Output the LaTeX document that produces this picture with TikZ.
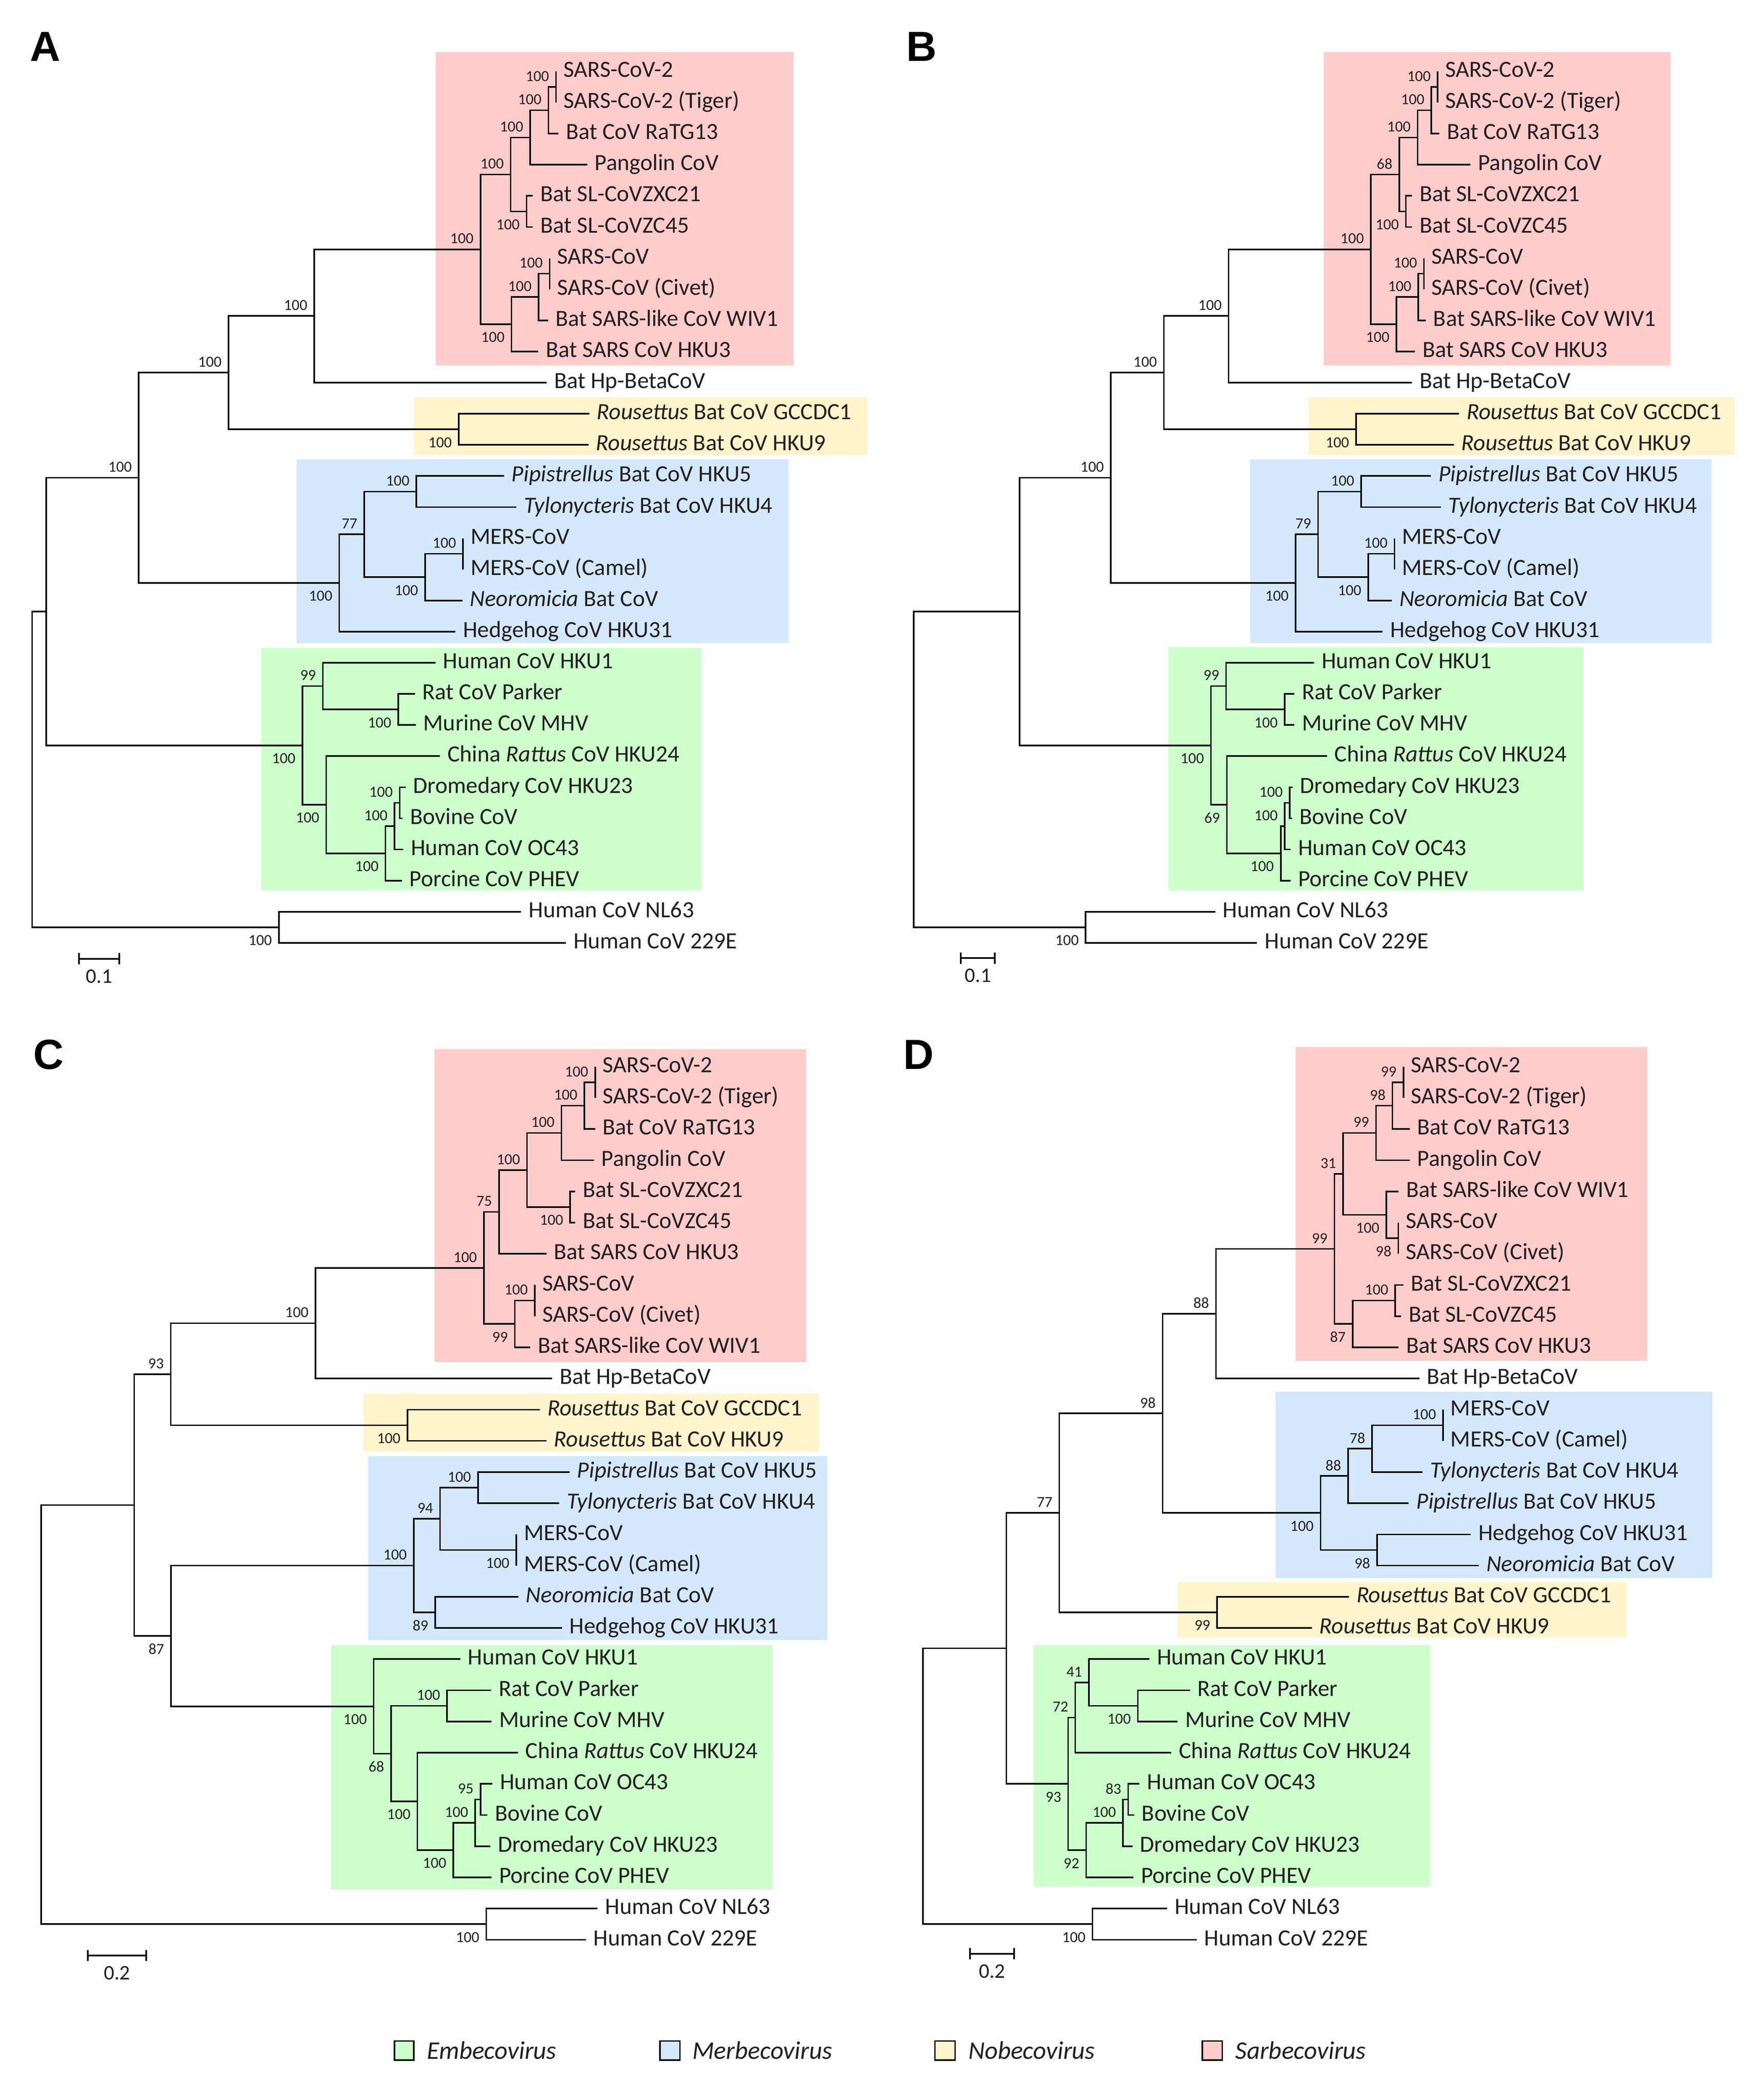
\documentclass[tikz,border=0pt]{standalone}
\usepackage{fontspec}
\setmainfont{Carlito}
\newfontfamily\panelfont{Liberation Sans}
\usetikzlibrary{calc}
\definecolor{txt}{HTML}{231F20}
\definecolor{pinkc}{HTML}{FFCCCC}
\definecolor{yelc}{HTML}{FFF4CC}
\definecolor{bluec}{HTML}{D4E8FB}
\definecolor{greenc}{HTML}{CCFFCC}
\tikzset{
  br/.style={line width=1.15pt, black},
  tiplab/.style={anchor=base west, inner sep=0pt, xshift=5.5pt, yshift=-4.3pt, text=txt, font=\fontsize{17.4}{20}\selectfont},
  bs/.style={inner sep=0pt, text=txt, font=\fontsize{11.5}{13}\selectfont},
  bsab/.style={anchor=east, xshift=-5pt, yshift=8pt},
  bsbe/.style={anchor=east, xshift=-5pt, yshift=-9.8pt},
  sbar/.style={line width=1.3pt, black},
  sblab/.style={inner sep=0pt, text=txt, font=\fontsize{15.5}{18}\selectfont},
  plab/.style={anchor=base west, inner sep=0pt, text=black, font=\panelfont\bfseries\fontsize{31.5}{36}\selectfont},
  leg/.style={anchor=base west, inner sep=0pt, text=txt, font=\itshape\fontsize{19}{22}\selectfont},
  legbox/.style={draw=black, line width=1pt}
}
\def\ybase{53.4}
\def\yspc{23.3}
\newcommand\tipnode[4]{%
  \coordinate (#1) at (#3,{\ybase+\yspc*(#2)});
  \node[tiplab] (#1t) at (#1) {#4};}
\newcommand\innode[5]{%
  \coordinate (#1) at (#3,{\ybase+\yspc*(#2)});
  \node[bs,#5] (#1b) at (#1) {#4};}
\newcommand\jnnode[3]{\coordinate (#1) at (#3,{\ybase+\yspc*(#2)});}
\newcommand\cladeEdges[3]{\draw[br] (#1) |- (#2) (#1) |- (#3);}
\newcommand\scalebar[6]{% name, x1, x2, y, label, labely
  \coordinate (#1l) at (#2,#4);
  \coordinate (#1r) at (#3,#4);
  \draw[sbar] (#1l) -- (#1r);
  \draw[sbar] ([yshift=4.2pt]#1l) -- ([yshift=-4.2pt]#1l);
  \draw[sbar] ([yshift=4.2pt]#1r) -- ([yshift=-4.2pt]#1r);
  \node[sblab] (#1t) at ($(#1l)!0.5!(#1r)+(0,#6-#4)$) {#5};}
\begin{document}
\begin{tikzpicture}[x=1pt,y=-1pt]
\useasboundingbox (0,0) rectangle (1320,1572);
\fill[white] (0,0) rectangle (1320,1572);
% ---------------- background boxes ----------------
% A
\fill[pinkc] (326.1,38.9) rectangle (594,273.4);
\fill[yelc] (309.7,297.4) rectangle (649,340.5);
\fill[bluec] (222.1,343.9) rectangle (590,481.4);
\fill[greenc] (195.6,485.2) rectangle (525,666.4);
% B
\fill[pinkc] (990.6,38.9) rectangle (1250,273.4);
\fill[yelc] (979.2,297.4) rectangle (1298,340.5);
\fill[bluec] (935.5,343.9) rectangle (1281,481.4);
\fill[greenc] (874.2,484.6) rectangle (1185,666.4);
% C
\fill[pinkc] (325.2,785.3) rectangle (603.4,1019.5);
\fill[yelc] (272.1,1043.3) rectangle (613,1086.6);
\fill[bluec] (275.4,1090.0) rectangle (619,1227.7);
\fill[greenc] (247.9,1231.4) rectangle (578,1414.3);
% D
\fill[pinkc] (969.6,783.9) rectangle (1232.8,1018.5);
\fill[bluec] (954.4,1041.8) rectangle (1281.5,1181.2);
\fill[yelc] (881.3,1184.4) rectangle (1217.4,1225.9);
\fill[greenc] (773.7,1231.5) rectangle (1070.3,1412.3);
% ---------------- panel labels ----------------
\node[plab] (pA) at (22.3,45.8) {A};
\node[plab] (pB) at (678.2,45.8) {B};
\node[plab] (pC) at (24.9,800.2) {C};
\node[plab] (pD) at (676.0,800.2) {D};
% ================= PANEL A =================
\tipnode{a0}{0}{416.1}{SARS-CoV-2}
\tipnode{a1}{1}{416.1}{SARS-CoV-2 (Tiger)}
\tipnode{a2}{2}{417.8}{Bat CoV RaTG13}
\tipnode{a3}{3}{439.4}{Pangolin CoV}
\tipnode{a4}{4}{398.8}{Bat SL-CoVZXC21}
\tipnode{a5}{5}{398.8}{Bat SL-CoVZC45}
\tipnode{a6}{6}{411.4}{SARS-CoV}
\tipnode{a7}{7}{411.4}{SARS-CoV (Civet)}
\tipnode{a8}{8}{410.2}{Bat SARS-like CoV WIV1}
\tipnode{a9}{9}{402.8}{Bat SARS CoV HKU3}
\tipnode{a10}{10}{409.1}{Bat Hp-BetaCoV}
\tipnode{a11}{11}{441.0}{\textit{Rousettus} Bat CoV GCCDC1}
\tipnode{a12}{12}{440.4}{\textit{Rousettus} Bat CoV HKU9}
\tipnode{a13}{13}{377.2}{\textit{Pipistrellus} Bat CoV HKU5}
\tipnode{a14}{14}{386.4}{\textit{Tylonycteris} Bat CoV HKU4}
\tipnode{a15}{15}{346.5}{MERS-CoV}
\tipnode{a16}{16}{346.5}{MERS-CoV (Camel)}
\tipnode{a17}{17}{346.0}{\textit{Neoromicia} Bat CoV}
\tipnode{a18}{18}{340.9}{Hedgehog CoV HKU31}
\tipnode{a19}{19}{325.9}{Human CoV HKU1}
\tipnode{a20}{20}{310.5}{Rat CoV Parker}
\tipnode{a21}{21}{311.1}{Murine CoV MHV}
\tipnode{a22}{22}{329.2}{China \textit{Rattus} CoV HKU24}
\tipnode{a23}{23}{303.6}{Dromedary CoV HKU23}
\tipnode{a24}{24}{301.3}{Bovine CoV}
\tipnode{a25}{25}{301.9}{Human CoV OC43}
\tipnode{a26}{26}{300.8}{Porcine CoV PHEV}
\tipnode{a27}{27}{390.0}{Human CoV NL63}
\tipnode{a28}{28}{423.5}{Human CoV 229E}
\innode{an1}{0.5}{416.1}{100}{bsab}
\innode{an2}{1.25}{410.4}{100}{bsab}
\innode{an3}{2.125}{396.8}{100}{bsab}
\innode{an4}{4.5}{394.1}{100}{bsbe}
\innode{an5}{3.3125}{382.2}{100}{bsab}
\innode{an6}{6.5}{411.4}{100}{bsab}
\innode{an7}{7.25}{403.0}{100}{bsab}
\innode{an8}{8.125}{382.8}{100}{bsbe}
\innode{an9}{5.71875}{359.6}{100}{bsab}
\innode{an10}{7.859375}{235.2}{100}{bsab}
\innode{an11}{11.5}{343.3}{100}{bsbe}
\innode{an12}{9.6796875}{171.0}{100}{bsab}
\innode{am1}{13.5}{311.6}{100}{bsab}
\innode{am2}{15.5}{346.5}{100}{bsab}
\innode{am3}{16.25}{318.1}{100}{bsbe}
\innode{am4}{14.875}{272.6}{77}{bsab}
\innode{am5}{16.4375}{253.9}{100}{bsbe}
\innode{an13}{13.05859}{103.8}{100}{bsab}
\innode{ae1}{20.5}{298.0}{100}{bsbe}
\innode{ae2}{19.75}{241.6}{99}{bsab}
\innode{ae3}{23.5}{299.1}{100}{bsab}
\innode{ae4}{24.25}{295.2}{100}{bsab}
\innode{ae5}{25.125}{288.5}{100}{bsbe}
\innode{ae6}{23.5625}{244.1}{100}{bsbe}
\innode{ae7}{21.65625}{226.3}{100}{bsbe}
\jnnode{an14}{17.3574}{34.6}
\innode{ao1}{27.5}{208.7}{100}{bsbe}
\jnnode{aroot}{22.4287}{24.0}
\cladeEdges{an1}{a0}{a1}
\cladeEdges{an2}{an1}{a2}
\cladeEdges{an3}{an2}{a3}
\cladeEdges{an4}{a4}{a5}
\cladeEdges{an5}{an3}{an4}
\cladeEdges{an6}{a6}{a7}
\cladeEdges{an7}{an6}{a8}
\cladeEdges{an8}{an7}{a9}
\cladeEdges{an9}{an5}{an8}
\cladeEdges{an10}{an9}{a10}
\cladeEdges{an11}{a11}{a12}
\cladeEdges{an12}{an10}{an11}
\cladeEdges{am1}{a13}{a14}
\cladeEdges{am2}{a15}{a16}
\cladeEdges{am3}{am2}{a17}
\cladeEdges{am4}{am1}{am3}
\cladeEdges{am5}{am4}{a18}
\cladeEdges{an13}{an12}{am5}
\cladeEdges{ae1}{a20}{a21}
\cladeEdges{ae2}{a19}{ae1}
\cladeEdges{ae3}{a23}{a24}
\cladeEdges{ae4}{ae3}{a25}
\cladeEdges{ae5}{ae4}{a26}
\cladeEdges{ae6}{a22}{ae5}
\cladeEdges{ae7}{ae2}{ae6}
\cladeEdges{an14}{an13}{ae7}
\cladeEdges{ao1}{a27}{a28}
\cladeEdges{aroot}{an14}{ao1}
\scalebar{sA}{59.1}{89.3}{717.7}{0.1}{730.9}
% ================= PANEL B =================
\tipnode{b0}{0}{1075.9}{SARS-CoV-2}
\tipnode{b1}{1}{1075.9}{SARS-CoV-2 (Tiger)}
\tipnode{b2}{2}{1077.2}{Bat CoV RaTG13}
\tipnode{b3}{3}{1100.5}{Pangolin CoV}
\tipnode{b4}{4}{1056.7}{Bat SL-CoVZXC21}
\tipnode{b5}{5}{1056.7}{Bat SL-CoVZC45}
\tipnode{b6}{6}{1065.7}{SARS-CoV}
\tipnode{b7}{7}{1065.7}{SARS-CoV (Civet)}
\tipnode{b8}{8}{1067.0}{Bat SARS-like CoV WIV1}
\tipnode{b9}{9}{1058.9}{Bat SARS CoV HKU3}
\tipnode{b10}{10}{1056.7}{Bat Hp-BetaCoV}
\tipnode{b11}{11}{1091.9}{\textit{Rousettus} Bat CoV GCCDC1}
\tipnode{b12}{12}{1088.0}{\textit{Rousettus} Bat CoV HKU9}
\tipnode{b13}{13}{1070.9}{\textit{Pipistrellus} Bat CoV HKU5}
\tipnode{b14}{14}{1078.3}{\textit{Tylonycteris} Bat CoV HKU4}
\tipnode{b15}{15}{1043.6}{MERS-CoV}
\tipnode{b16}{16}{1043.6}{MERS-CoV (Camel)}
\tipnode{b17}{17}{1041.6}{\textit{Neoromicia} Bat CoV}
\tipnode{b18}{18}{1034.8}{Hedgehog CoV HKU31}
\tipnode{b19}{19}{983.4}{Human CoV HKU1}
\tipnode{b20}{20}{968.7}{Rat CoV Parker}
\tipnode{b21}{21}{968.7}{Murine CoV MHV}
\tipnode{b22}{22}{993.1}{China \textit{Rattus} CoV HKU24}
\tipnode{b23}{23}{967.3}{Dromedary CoV HKU23}
\tipnode{b24}{24}{967.0}{Bovine CoV}
\tipnode{b25}{25}{965.8}{Human CoV OC43}
\tipnode{b26}{26}{965.8}{Porcine CoV PHEV}
\tipnode{b27}{27}{909.4}{Human CoV NL63}
\tipnode{b28}{28}{940.8}{Human CoV 229E}
\innode{bn1}{0.5}{1075.9}{100}{bsab}
\innode{bn2}{1.25}{1071.2}{100}{bsab}
\innode{bn3}{2.125}{1060.9}{100}{bsab}
\innode{bn4}{4.5}{1052.1}{100}{bsbe}
\innode{bn5}{3.3125}{1047.2}{68}{bsab}
\innode{bn6}{6.5}{1065.7}{100}{bsab}
\innode{bn7}{7.25}{1061.5}{100}{bsab}
\innode{bn8}{8.125}{1045.0}{100}{bsbe}
\innode{bn9}{5.71875}{1025.9}{100}{bsab}
\innode{bn10}{7.859375}{919.5}{100}{bsab}
\innode{bn11}{11.5}{1014.8}{100}{bsbe}
\innode{bn12}{9.6796875}{871.0}{100}{bsab}
\innode{bm1}{13.5}{1018.7}{100}{bsab}
\innode{bm2}{15.5}{1043.6}{100}{bsab}
\innode{bm3}{16.25}{1024.0}{100}{bsbe}
\innode{bm4}{14.875}{986.4}{79}{bsab}
\innode{bm5}{16.4375}{969.6}{100}{bsbe}
\innode{bn13}{13.05859}{831.3}{100}{bsab}
\innode{be1}{20.5}{961.4}{100}{bsbe}
\innode{be2}{19.75}{917.6}{99}{bsab}
\innode{be3}{23.5}{965.2}{100}{bsab}
\innode{be4}{24.25}{961.4}{100}{bsab}
\innode{be5}{25.125}{958.5}{100}{bsbe}
\innode{be6}{23.5625}{918.2}{69}{bsbe}
\innode{be7}{21.65625}{906.2}{100}{bsbe}
\jnnode{bn14}{17.3574}{763.1}
\innode{bo1}{27.5}{812.5}{100}{bsbe}
\jnnode{broot}{22.4287}{683.9}
\cladeEdges{bn1}{b0}{b1}
\cladeEdges{bn2}{bn1}{b2}
\cladeEdges{bn3}{bn2}{b3}
\cladeEdges{bn4}{b4}{b5}
\cladeEdges{bn5}{bn3}{bn4}
\cladeEdges{bn6}{b6}{b7}
\cladeEdges{bn7}{bn6}{b8}
\cladeEdges{bn8}{bn7}{b9}
\cladeEdges{bn9}{bn5}{bn8}
\cladeEdges{bn10}{bn9}{b10}
\cladeEdges{bn11}{b11}{b12}
\cladeEdges{bn12}{bn10}{bn11}
\cladeEdges{bm1}{b13}{b14}
\cladeEdges{bm2}{b15}{b16}
\cladeEdges{bm3}{bm2}{b17}
\cladeEdges{bm4}{bm1}{bm3}
\cladeEdges{bm5}{bm4}{b18}
\cladeEdges{bn13}{bn12}{bm5}
\cladeEdges{be1}{b20}{b21}
\cladeEdges{be2}{b19}{be1}
\cladeEdges{be3}{b23}{b24}
\cladeEdges{be4}{be3}{b25}
\cladeEdges{be5}{be4}{b26}
\cladeEdges{be6}{b22}{be5}
\cladeEdges{be7}{be2}{be6}
\cladeEdges{bn14}{bn13}{be7}
\cladeEdges{bo1}{b27}{b28}
\cladeEdges{broot}{bn14}{bo1}
\scalebar{sB}{719.1}{744.6}{717.2}{0.1}{730.4}
% ================= PANEL C =================
\def\ybase{798.5}
\def\yspc{23.34}
\tipnode{c0}{0}{445.4}{SARS-CoV-2}
\tipnode{c1}{1}{445.4}{SARS-CoV-2 (Tiger)}
\tipnode{c2}{2}{445.4}{Bat CoV RaTG13}
\tipnode{c3}{3}{444.4}{Pangolin CoV}
\tipnode{c4}{4}{430.5}{Bat SL-CoVZXC21}
\tipnode{c5}{5}{430.5}{Bat SL-CoVZC45}
\tipnode{c6}{6}{408.9}{Bat SARS CoV HKU3}
\tipnode{c7}{7}{400.2}{SARS-CoV}
\tipnode{c8}{8}{400.2}{SARS-CoV (Civet)}
\tipnode{c9}{9}{396.9}{Bat SARS-like CoV WIV1}
\tipnode{c10}{10}{413.1}{Bat Hp-BetaCoV}
\tipnode{c11}{11}{404.0}{\textit{Rousettus} Bat CoV GCCDC1}
\tipnode{c12}{12}{408.9}{\textit{Rousettus} Bat CoV HKU9}
\tipnode{c13}{13}{426.2}{\textit{Pipistrellus} Bat CoV HKU5}
\tipnode{c14}{14}{418.5}{\textit{Tylonycteris} Bat CoV HKU4}
\tipnode{c15}{15}{386.4}{MERS-CoV}
\tipnode{c16}{16}{386.4}{MERS-CoV (Camel)}
\tipnode{c17}{17}{387.9}{\textit{Neoromicia} Bat CoV}
\tipnode{c18}{18}{420.6}{Hedgehog CoV HKU31}
\tipnode{c19}{19}{344.5}{Human CoV HKU1}
\tipnode{c20}{20}{367.6}{Rat CoV Parker}
\tipnode{c21}{21}{367.9}{Murine CoV MHV}
\tipnode{c22}{22}{387.6}{China \textit{Rattus} CoV HKU24}
\tipnode{c23}{23}{368.5}{Human CoV OC43}
\tipnode{c24}{24}{364.8}{Bovine CoV}
\tipnode{c25}{25}{367.0}{Dromedary CoV HKU23}
\tipnode{c26}{26}{367.9}{Porcine CoV PHEV}
\tipnode{c27}{27}{447.2}{Human CoV NL63}
\tipnode{c28}{28}{438.5}{Human CoV 229E}
\innode{cn1}{0.5}{445.4}{100}{bsab}
\innode{cn2}{1.25}{437.3}{100}{bsab}
\innode{cn3}{2.125}{420.2}{100}{bsab}
\innode{cn4}{4.5}{426.7}{100}{bsbe}
\innode{cn5}{3.3125}{394.4}{100}{bsab}
\innode{cn6}{4.65625}{373.4}{75}{bsab}
\innode{cn7}{7.5}{400.2}{100}{bsab}
\innode{cn8}{8.25}{385.3}{99}{bsbe}
\innode{cn9}{6.453125}{362.1}{100}{bsab}
\innode{cn10}{8.2265625}{236.1}{100}{bsab}
\innode{cn11}{11.5}{304.9}{100}{bsbe}
\innode{cn12}{9.86328}{127.8}{93}{bsab}
\innode{cm1}{13.5}{357.7}{100}{bsab}
\innode{cm2}{15.5}{386.4}{100}{bsbe}
\innode{cm3}{14.5}{329.3}{94}{bsab}
\innode{cm4}{17.5}{325.7}{89}{bsbe}
\innode{cm5}{16.0}{309.6}{100}{bsab}
\innode{ce1}{20.5}{334.6}{100}{bsab}
\innode{ce2}{23.5}{359.6}{95}{bsab}
\innode{ce3}{24.25}{355.6}{100}{bsab}
\innode{ce4}{25.125}{339.2}{100}{bsbe}
\innode{ce5}{23.5625}{312.4}{100}{bsbe}
\innode{ce6}{22.03125}{292.7}{68}{bsbe}
\innode{ce7}{20.515625}{279.7}{100}{bsbe}
\innode{cn13}{18.2578}{128.0}{87}{bsbe}
\jnnode{cn14}{14.0605}{100.5}
\innode{co1}{27.5}{363.9}{100}{bsbe}
\jnnode{croot}{20.7803}{30.8}
\cladeEdges{cn1}{c0}{c1}
\cladeEdges{cn2}{cn1}{c2}
\cladeEdges{cn3}{cn2}{c3}
\cladeEdges{cn4}{c4}{c5}
\cladeEdges{cn5}{cn3}{cn4}
\cladeEdges{cn6}{cn5}{c6}
\cladeEdges{cn7}{c7}{c8}
\cladeEdges{cn8}{cn7}{c9}
\cladeEdges{cn9}{cn6}{cn8}
\cladeEdges{cn10}{cn9}{c10}
\cladeEdges{cn11}{c11}{c12}
\cladeEdges{cn12}{cn10}{cn11}
\cladeEdges{cm1}{c13}{c14}
\cladeEdges{cm2}{c15}{c16}
\cladeEdges{cm3}{cm1}{cm2}
\cladeEdges{cm4}{c17}{c18}
\cladeEdges{cm5}{cm3}{cm4}
\cladeEdges{ce1}{c20}{c21}
\cladeEdges{ce2}{c23}{c24}
\cladeEdges{ce3}{ce2}{c25}
\cladeEdges{ce4}{ce3}{c26}
\cladeEdges{ce5}{c22}{ce4}
\cladeEdges{ce6}{ce1}{ce5}
\cladeEdges{ce7}{c19}{ce6}
\cladeEdges{cn13}{cm5}{ce7}
\cladeEdges{cn14}{cn12}{cn13}
\cladeEdges{co1}{c27}{c28}
\cladeEdges{croot}{cn14}{co1}
\scalebar{sC}{65.7}{109.5}{1463.8}{0.2}{1476.9}
% ================= PANEL D =================
\tipnode{d0}{0}{1050.3}{SARS-CoV-2}
\tipnode{d1}{1}{1050.3}{SARS-CoV-2 (Tiger)}
\tipnode{d2}{2}{1055.0}{Bat CoV RaTG13}
\tipnode{d3}{3}{1055.0}{Pangolin CoV}
\tipnode{d4}{4}{1046.7}{Bat SARS-like CoV WIV1}
\tipnode{d5}{5}{1046.5}{SARS-CoV}
\tipnode{d6}{6}{1046.5}{SARS-CoV (Civet)}
\tipnode{d7}{7}{1050.3}{Bat SL-CoVZXC21}
\tipnode{d8}{8}{1048.5}{Bat SL-CoVZC45}
\tipnode{d9}{9}{1046.7}{Bat SARS CoV HKU3}
\tipnode{d10}{10}{1062.2}{Bat Hp-BetaCoV}
\tipnode{d11}{11}{1079.9}{MERS-CoV}
\tipnode{d12}{12}{1079.9}{MERS-CoV (Camel)}
\tipnode{d13}{13}{1064.6}{\textit{Tylonycteris} Bat CoV HKU4}
\tipnode{d14}{14}{1054.3}{\textit{Pipistrellus} Bat CoV HKU5}
\tipnode{d15}{15}{1100.8}{Hedgehog CoV HKU31}
\tipnode{d16}{16}{1106.7}{\textit{Neoromicia} Bat CoV}
\tipnode{d17}{17}{1009.5}{\textit{Rousettus} Bat CoV GCCDC1}
\tipnode{d18}{18}{981.8}{\textit{Rousettus} Bat CoV HKU9}
\tipnode{d19}{19}{860.2}{Human CoV HKU1}
\tipnode{d20}{20}{890.6}{Rat CoV Parker}
\tipnode{d21}{21}{881.3}{Murine CoV MHV}
\tipnode{d22}{22}{876.6}{China \textit{Rattus} CoV HKU24}
\tipnode{d23}{23}{852.8}{Human CoV OC43}
\tipnode{d24}{24}{848.8}{Bovine CoV}
\tipnode{d25}{25}{847.5}{Dromedary CoV HKU23}
\tipnode{d26}{26}{848.3}{Porcine CoV PHEV}
\tipnode{d27}{27}{873.4}{Human CoV NL63}
\tipnode{d28}{28}{895.6}{Human CoV 229E}
\innode{dn1}{0.5}{1050.3}{99}{bsab}
\innode{dn2}{1.25}{1042.1}{98}{bsab}
\innode{dn3}{2.125}{1029.8}{99}{bsab}
\innode{dn4}{5.5}{1046.5}{98}{bsbe}
\innode{dn5}{4.75}{1037.5}{100}{bsbe}
\innode{dn6}{3.4375}{1005.1}{31}{bsab}
\innode{dn7}{7.5}{1044.2}{100}{bsab}
\innode{dn8}{8.25}{1012.3}{87}{bsbe}
\innode{dn9}{5.84375}{998.7}{99}{bsab}
\innode{dn10}{7.921875}{910.0}{88}{bsab}
\innode{dm1}{11.5}{1079.9}{100}{bsab}
\innode{dm2}{12.25}{1026.9}{78}{bsab}
\innode{dm3}{13.125}{1008.9}{88}{bsab}
\innode{dm4}{15.5}{1030.6}{98}{bsbe}
\innode{dm5}{14.3125}{988.3}{100}{bsbe}
\innode{dn11}{11.1171875}{870.1}{98}{bsab}
\innode{dy1}{17.5}{910.9}{99}{bsbe}
\innode{dn12}{14.30859}{792.8}{77}{bsab}
\innode{de1}{20.5}{851.5}{100}{bsbe}
\innode{de2}{19.75}{815.0}{41}{bsab}
\innode{de3}{20.875}{804.7}{72}{bsab}
\innode{de4}{23.5}{844.3}{83}{bsab}
\innode{de5}{24.25}{840.4}{100}{bsab}
\innode{de6}{25.125}{812.9}{92}{bsbe}
\innode{de7}{23.0}{799.4}{93}{bsbe}
\jnnode{dn13}{18.6543}{753.1}
\innode{do1}{27.5}{817.6}{100}{bsbe}
\jnnode{droot}{23.0771}{690.7}
\cladeEdges{dn1}{d0}{d1}
\cladeEdges{dn2}{dn1}{d2}
\cladeEdges{dn3}{dn2}{d3}
\cladeEdges{dn4}{d5}{d6}
\cladeEdges{dn5}{d4}{dn4}
\cladeEdges{dn6}{dn3}{dn5}
\cladeEdges{dn7}{d7}{d8}
\cladeEdges{dn8}{dn7}{d9}
\cladeEdges{dn9}{dn6}{dn8}
\cladeEdges{dn10}{dn9}{d10}
\cladeEdges{dm1}{d11}{d12}
\cladeEdges{dm2}{dm1}{d13}
\cladeEdges{dm3}{dm2}{d14}
\cladeEdges{dm4}{d15}{d16}
\cladeEdges{dm5}{dm3}{dm4}
\cladeEdges{dn11}{dn10}{dm5}
\cladeEdges{dy1}{d17}{d18}
\cladeEdges{dn12}{dn11}{dy1}
\cladeEdges{de1}{d20}{d21}
\cladeEdges{de2}{d19}{de1}
\cladeEdges{de3}{de2}{d22}
\cladeEdges{de4}{d23}{d24}
\cladeEdges{de5}{de4}{d25}
\cladeEdges{de6}{de5}{d26}
\cladeEdges{de7}{de3}{de6}
\cladeEdges{dn13}{dn12}{de7}
\cladeEdges{do1}{d27}{d28}
\cladeEdges{droot}{dn13}{do1}
\scalebar{sD}{725.9}{758.9}{1462.5}{0.2}{1475.8}
% ================= LEGEND =================
\filldraw[legbox, fill=greenc] (295.2,1527.8) rectangle (309.7,1542.1);
\node[leg] (lgE) at (319.3,1541.4) {Embecovirus};
\filldraw[legbox, fill=bluec] (493.9,1527.8) rectangle (508.9,1542.1);
\node[leg] (lgM) at (518.0,1541.4) {Merbecovirus};
\filldraw[legbox, fill=yelc] (699.7,1527.8) rectangle (714.7,1542.1);
\node[leg] (lgN) at (724.5,1541.4) {Nobecovirus};
\filldraw[legbox, fill=pinkc] (899.8,1527.8) rectangle (914.8,1542.1);
\node[leg] (lgS) at (924.4,1541.4) {Sarbecovirus};
\end{tikzpicture}
\end{document}
